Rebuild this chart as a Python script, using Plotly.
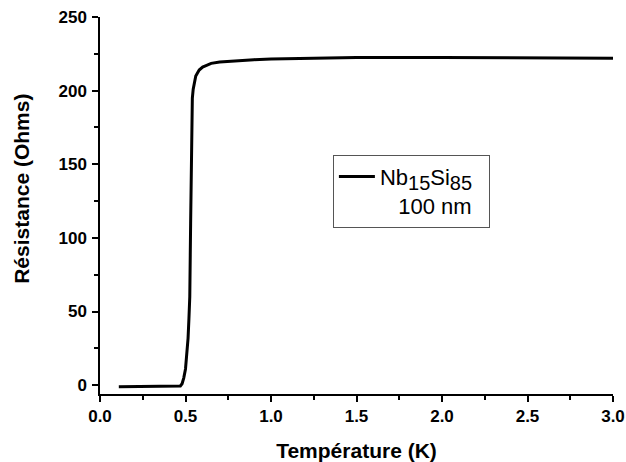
import plotly.graph_objects as go

temperature = [0.11, 0.2, 0.3, 0.4, 0.46, 0.47, 0.48, 0.49, 0.50, 0.51, 0.515, 0.52, 0.525,
               0.53, 0.535, 0.54, 0.545, 0.55, 0.56, 0.58, 0.60, 0.62, 0.65, 0.70, 0.80,
               0.90, 1.0, 1.2, 1.5, 2.0, 2.5, 3.0]
resistance = [-1, -1, -1, -1, -1, -0.5, 1, 5, 11, 22, 32, 45, 60,
              110, 170, 195, 201, 205, 210, 214, 216, 217, 218.5, 219.5, 220.5,
              221, 221.5, 222, 222.5, 222.5, 222.5, 222]

x_ticks = [0.0, 0.5, 1.0, 1.5, 2.0, 2.5, 3.0]
x_tick_labels = ["0.0", "0.5", "1.0", "1.5", "2.0", "2.5", "3.0"]
y_ticks = [0, 50, 100, 150, 200, 250]

x_title = "Température (K)"
y_title = "Résistance (Ohms)"

font_family = "Liberation Sans, Arial, sans-serif"

sub = "<sub><span style='font-size:20px'>{}</span></sub>"
legend_label = ("Nb" + sub.format("15") + "Si" + sub.format("85")
                + "<br>\u00a0\u00a0\u00a0100\u00a0nm\u00a0\u00a0")

fig = go.Figure()
fig.add_trace(go.Scatter(
    x=temperature, y=resistance, mode="lines",
    line=dict(color="black", width=3),
    name=legend_label,
))

axis_common = dict(
    showline=True, linecolor="black", linewidth=1.5,
    ticks="outside", ticklen=6, tickwidth=1.5, tickcolor="black",
    showgrid=False, zeroline=False, mirror=False, automargin=False,
    ticklabeloverflow="allow",
    tickfont=dict(family=font_family, size=17, color="black", weight="bold"),
)

fig.update_layout(
    width=626, height=462,
    margin=dict(l=100, r=13, t=16.5, b=68),
    paper_bgcolor="white", plot_bgcolor="white",
    font=dict(family=font_family, color="black"),
    xaxis=dict(
        range=[0, 3.0], tickvals=x_ticks, ticktext=x_tick_labels,
        ticklabelstandoff=0,
        title=dict(text="<b>" + x_title + "</b>", font=dict(size=21), standoff=19),
        minor=dict(dtick=0.25, ticklen=4, tickwidth=1.5, tickcolor="black", ticks="outside", showgrid=False),
        **axis_common,
    ),
    yaxis=dict(
        range=[-6, 250], tickvals=y_ticks,
        ticklabelstandoff=2,
        minor=dict(dtick=25, ticklen=4, tickwidth=1.5, tickcolor="black", ticks="outside", showgrid=False),
        **axis_common,
    ),
    annotations=[dict(
        text="<b>" + y_title + "</b>", textangle=-90,
        xref="paper", yref="paper", x=-0.153, y=0.543,
        xanchor="center", yanchor="middle", showarrow=False,
        font=dict(family=font_family, size=21, color="black"),
    )],
    showlegend=True,
    legend=dict(
        x=0.454, y=0.635, xanchor="left", yanchor="top",
        bordercolor="#555555", borderwidth=1, bgcolor="white",
        font=dict(family=font_family, size=22, color="black"),
        valign="top", itemwidth=36,
    ),
)

# remove the browser's default 8px body margin so the figure fills the window
fig.write_html("out.html", config={"displayModeBar": False},
               post_script="document.body.style.margin='0';")
